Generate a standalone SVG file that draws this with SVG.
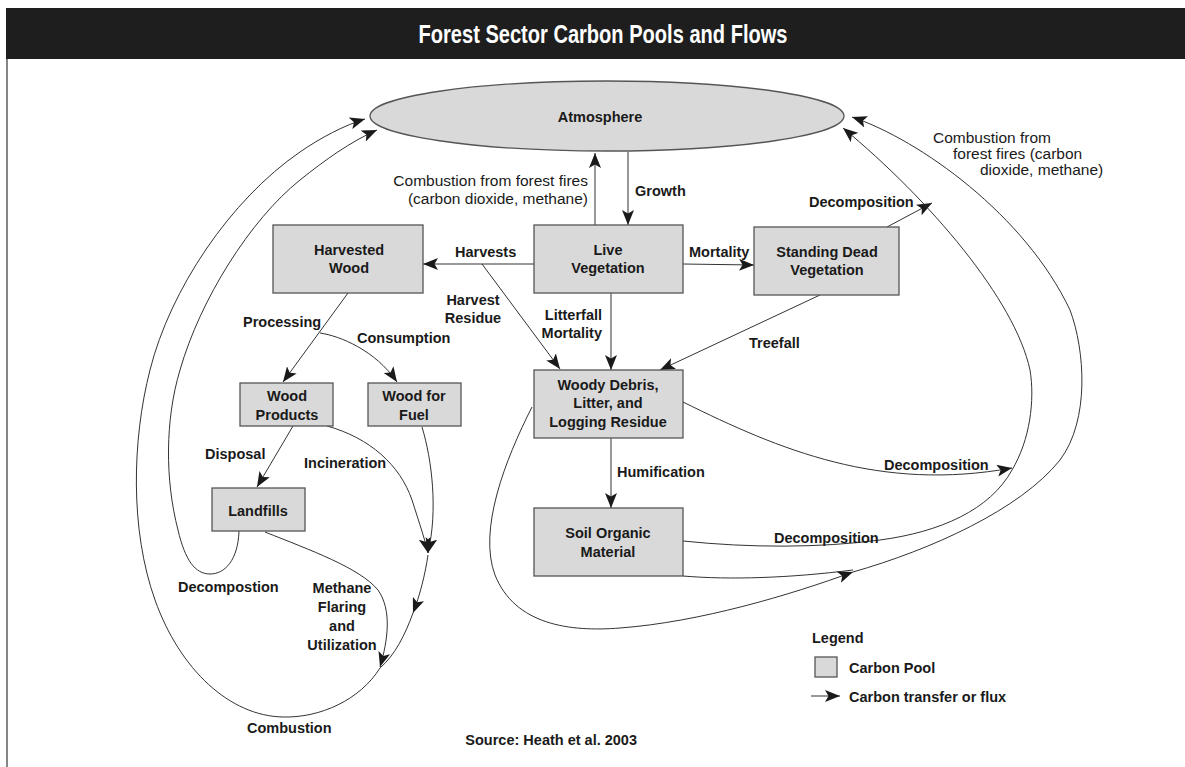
<svg xmlns="http://www.w3.org/2000/svg" width="1185" height="767" viewBox="0 0 1185 767">
<defs>
<marker id="ah" viewBox="0 0 15 12" refX="15" refY="6" markerWidth="15" markerHeight="12" markerUnits="userSpaceOnUse" orient="auto">
<path d="M0,0 L15,6 L0,12 L3.5,6 z" fill="#1a1a1a"/>
</marker>
<style>
.pool{fill:#d9d9d9;stroke:#555;stroke-width:1.3}
.c{fill:none;stroke:#333;stroke-width:1}
.a{marker-end:url(#ah)}
.b{font-family:"Liberation Sans",Arial,Helvetica,sans-serif;font-weight:bold;font-size:14.5px;fill:#1a1a1a}
.n{font-family:"Liberation Sans",Arial,Helvetica,sans-serif;font-size:15.5px;fill:#1a1a1a}
.m{text-anchor:middle}
.e{text-anchor:end}
</style>
</defs>
<rect width="1185" height="767" fill="#fff"/>
<g id="title">
<rect x="6" y="8" width="1179" height="51" fill="#1e1e1e"/>
<text x="603" y="43" text-anchor="middle" font-family="'Liberation Sans Narrow','Liberation Sans',Arial,sans-serif" font-weight="bold" font-size="26" fill="#fff" textLength="369" lengthAdjust="spacingAndGlyphs">Forest Sector Carbon Pools and Flows</text>
</g>
<line x1="7" y1="59" x2="7" y2="767" stroke="#444" stroke-width="1.3"/>

<g id="connectors">
<path class="c a" d="M628,152 L628,225"/>
<path class="c a" d="M595,225 L595,153"/>
<path class="c a" d="M534,264 L423,264"/>
<path class="c a" d="M482,264 L560,369"/>
<path class="c a" d="M683,264 L754,265"/>
<path class="c a" d="M611,293 L611,370"/>
<path class="c a" d="M820,295 L660,370"/>
<path class="c a" d="M887,227 L932,203"/>
<path class="c a" d="M611,438 L611,508"/>
<path class="c a" d="M683,402 C780,450 880,492 1012,468"/>
<path class="c a" d="M683,541 C750,548 820,548 880,540 C940,532 990,510 1012,470 C1030,440 1035,400 1030,370 C1015,300 930,200 843,128"/>
<path class="c" d="M683,576 C730,580 790,578 853,570"/>
<path class="c a" d="M532,407 C505,460 478,530 495,575 C515,625 570,632 620,628 C700,622 790,595 853,572"/>
<path class="c a" d="M853,572 C930,550 1020,510 1060,460 C1090,420 1085,350 1070,310 C1025,215 920,140 852,117"/>
<path class="c a" d="M348,293 L283,382"/>
<path class="c a" d="M320,333 C340,336 375,350 397,382"/>
<path class="c a" d="M293,426 L257,487"/>
<path class="c a" d="M422,427 C432,460 438,510 428,553"/>
<path class="c a" d="M327,426 C370,438 400,465 412,500 C420,525 425,540 428,553"/>
<path class="c a" d="M428,555 C425,575 420,595 413,613"/>
<path class="c" d="M413,613 C405,635 395,655 380,668"/>
<path class="c a" d="M265,532 C310,550 360,568 378,590 C392,610 388,640 380,667"/>
<path class="c a" d="M380,668 C360,700 320,718 283,717 C230,716 180,670 155,600 C130,530 132,440 150,370 C170,290 230,200 300,152 C320,138 345,125 365,119"/>
<path class="c a" d="M239,531 C238,560 225,574 210,574 C195,574 185,560 178,530 C165,480 165,420 180,370 C200,300 250,220 300,180 C325,160 350,142 377,130"/>
</g>

<g id="atmosphere">
<ellipse cx="607" cy="116" rx="237" ry="35" class="pool" stroke="#333"/>
<text class="b m" x="600" y="122">Atmosphere</text>
</g>
<g id="live-vegetation">
<rect class="pool" x="534" y="225" width="149" height="68"/>
<text class="b m" x="608" y="255">Live</text>
<text class="b m" x="608" y="273">Vegetation</text>
</g>
<g id="harvested-wood">
<rect class="pool" x="273" y="225" width="150" height="68"/>
<text class="b m" x="349" y="255">Harvested</text>
<text class="b m" x="349" y="273">Wood</text>
</g>
<g id="standing-dead">
<rect class="pool" x="754" y="227" width="145" height="68"/>
<text class="b m" x="827" y="257">Standing Dead</text>
<text class="b m" x="827" y="275">Vegetation</text>
</g>
<g id="woody-debris">
<rect class="pool" x="534" y="370" width="149" height="68"/>
<text class="b m" x="608" y="390">Woody Debris,</text>
<text class="b m" x="608" y="408">Litter, and</text>
<text class="b m" x="608" y="427">Logging Residue</text>
</g>
<g id="soil">
<rect class="pool" x="534" y="508" width="149" height="68"/>
<text class="b m" x="608" y="538">Soil Organic</text>
<text class="b m" x="608" y="557">Material</text>
</g>
<g id="wood-products">
<rect class="pool" x="240" y="383" width="93" height="43"/>
<text class="b m" x="287" y="401">Wood</text>
<text class="b m" x="287" y="420">Products</text>
</g>
<g id="wood-fuel">
<rect class="pool" x="368" y="383" width="93" height="43"/>
<text class="b m" x="414" y="401">Wood for</text>
<text class="b m" x="414" y="420">Fuel</text>
</g>
<g id="landfills">
<rect class="pool" x="212" y="488" width="93" height="43"/>
<text class="b m" x="258" y="516">Landfills</text>
</g>

<g id="labels">
<text class="n e" x="588" y="186">Combustion from forest fires</text>
<text class="n e" x="588" y="204">(carbon dioxide, methane)</text>
<text class="b" x="635" y="196">Growth</text>
<text class="b" x="455" y="257">Harvests</text>
<text class="b m" x="473" y="305">Harvest</text>
<text class="b m" x="473" y="323">Residue</text>
<text class="b e" x="602" y="320">Litterfall</text>
<text class="b e" x="602" y="338">Mortality</text>
<text class="b" x="689" y="257">Mortality</text>
<text class="b" x="809" y="207">Decomposition</text>
<text class="n" x="933" y="143">Combustion from</text>
<text class="n" x="953" y="159">forest fires (carbon</text>
<text class="n" x="980" y="175">dioxide, methane)</text>
<text class="b" x="749" y="348">Treefall</text>
<text class="b" x="617" y="477">Humification</text>
<text class="b" x="884" y="470">Decomposition</text>
<text class="b" x="774" y="543">Decomposition</text>
<text class="b" x="243" y="327">Processing</text>
<text class="b" x="357" y="343">Consumption</text>
<text class="b" x="205" y="459">Disposal</text>
<text class="b" x="304" y="468">Incineration</text>
<text class="b" x="178" y="592">Decompostion</text>
<text class="b m" x="342" y="593">Methane</text>
<text class="b m" x="342" y="612">Flaring</text>
<text class="b m" x="342" y="631">and</text>
<text class="b m" x="342" y="650">Utilization</text>
<text class="b" x="247" y="733">Combustion</text>
<text class="b e" x="637" y="745">Source: Heath et al. 2003</text>
</g>

<g id="legend">
<text class="b" x="812" y="643">Legend</text>
<rect class="pool" x="815" y="657" width="22" height="20"/>
<text class="b" x="849" y="673">Carbon Pool</text>
<path class="c a" d="M811,696 L840,696"/>
<text class="b" x="849" y="702">Carbon transfer or flux</text>
</g>
</svg>
